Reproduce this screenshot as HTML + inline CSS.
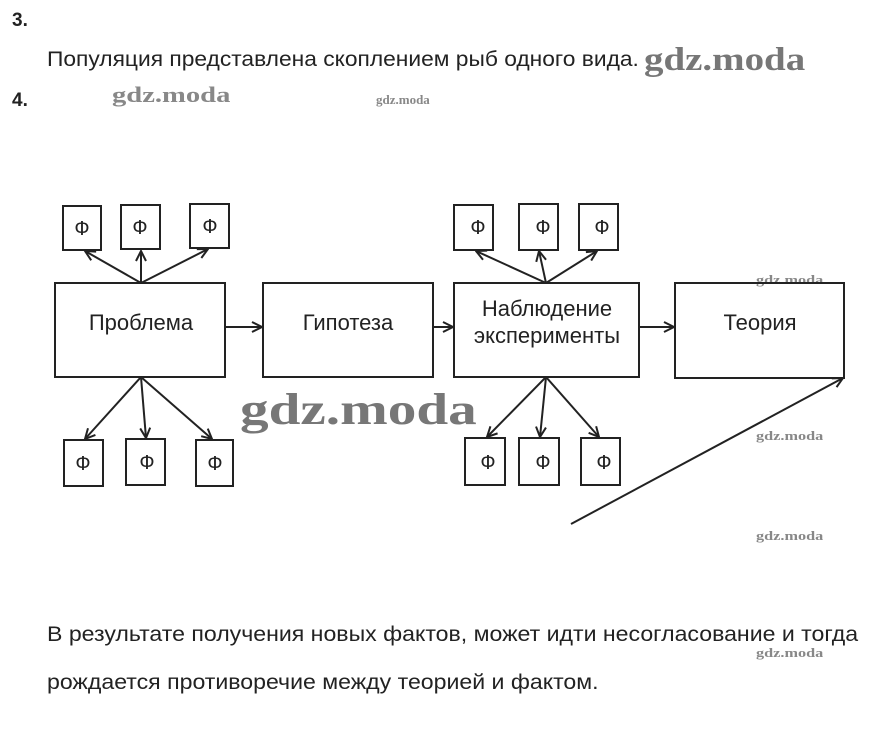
<!DOCTYPE html>
<html><head><meta charset="utf-8"><style>
body{margin:0;width:871px;height:750px;background:#fff;position:relative;overflow:hidden;font-family:"Liberation Sans",sans-serif;color:#222}
.t{position:absolute;white-space:nowrap;transform-origin:0 0}
.w{position:absolute;font-family:"Liberation Serif",serif;font-weight:bold;color:#888;white-space:nowrap;transform-origin:0 0}
</style></head><body>
<div class="t" style="left:12px;top:10px;font-size:19px;font-weight:bold">3.</div>
<div class="t" style="left:47px;top:48px;font-size:21px;transform:scaleX(1.085)">Популяция представлена скоплением рыб одного вида.</div>
<div class="w" style="left:644px;top:42px;font-size:33px;color:#777;transform:scaleX(1.18)">gdz.moda</div>
<div class="t" style="left:12px;top:90px;font-size:19px;font-weight:bold">4.</div>
<div class="w" style="left:112px;top:82px;font-size:22px;transform:scaleX(1.3)">gdz.moda</div>
<div class="w" style="left:376px;top:92px;font-size:13px">gdz.moda</div>
<div class="w" style="left:756px;top:272px;font-size:13px;transform:scaleX(1.25)">gdz.moda</div>
<div class="w" style="left:756px;top:428px;font-size:13px;transform:scaleX(1.25)">gdz.moda</div>
<div class="w" style="left:756px;top:528px;font-size:13px;transform:scaleX(1.25)">gdz.moda</div>
<div class="w" style="left:756px;top:645px;font-size:13px;transform:scaleX(1.25)">gdz.moda</div>
<svg width="871" height="750" style="position:absolute;left:0;top:0">
<defs><marker id="a" markerWidth="12" markerHeight="12" refX="11" refY="6" orient="auto" markerUnits="userSpaceOnUse"><path d="M1,1 L11,6 L1,11" fill="none" stroke="#222" stroke-width="2"/></marker></defs>
<g fill="none" stroke="#222" stroke-width="2">
<rect x="55" y="283" width="170" height="94"/>
<rect x="263" y="283" width="170" height="94"/>
<rect x="454" y="283" width="185" height="94"/>
<rect x="675" y="283" width="169" height="95"/>
<rect x="63" y="206" width="38" height="44"/>
<rect x="121" y="205" width="39" height="44"/>
<rect x="190" y="204" width="39" height="44"/>
<rect x="454" y="205" width="39" height="45"/>
<rect x="519" y="204" width="39" height="46"/>
<rect x="579" y="204" width="39" height="46"/>
<rect x="64" y="440" width="39" height="46"/>
<rect x="126" y="439" width="39" height="46"/>
<rect x="196" y="440" width="37" height="46"/>
<rect x="465" y="438" width="40" height="47"/>
<rect x="519" y="438" width="40" height="47"/>
<rect x="581" y="438" width="39" height="47"/>
</g>
<g stroke="#222" stroke-width="2" marker-end="url(#a)">
<line x1="141" y1="283" x2="85" y2="251"/>
<line x1="141" y1="283" x2="141" y2="251"/>
<line x1="141" y1="283" x2="208" y2="249"/>
<line x1="546" y1="283" x2="476" y2="251"/>
<line x1="546" y1="283" x2="539" y2="251"/>
<line x1="546" y1="283" x2="597" y2="251"/>
<line x1="141" y1="377" x2="85" y2="439"/>
<line x1="141" y1="377" x2="146" y2="438"/>
<line x1="141" y1="377" x2="212" y2="439"/>
<line x1="546" y1="377" x2="487" y2="437"/>
<line x1="546" y1="377" x2="540" y2="437"/>
<line x1="546" y1="377" x2="599" y2="437"/>
<line x1="225" y1="327" x2="262" y2="327"/>
<line x1="433" y1="327" x2="453" y2="327"/>
<line x1="639" y1="327" x2="674" y2="327"/>
<line x1="571" y1="524" x2="843" y2="378"/>
</g>
<g font-family="Liberation Sans,sans-serif" font-size="22" fill="#222" text-anchor="middle">
<text x="141" y="330">Проблема</text>
<text x="348" y="330">Гипотеза</text>
<text x="547" y="316">Наблюдение</text>
<text x="547" y="343">эксперименты</text>
<text x="760" y="330">Теория</text>
<g font-size="20">
<text x="82" y="235">Ф</text><text x="140" y="234">Ф</text><text x="210" y="233">Ф</text>
<text x="478" y="234">Ф</text><text x="543" y="234">Ф</text><text x="602" y="234">Ф</text>
<text x="83" y="470">Ф</text><text x="147" y="469">Ф</text><text x="215" y="470">Ф</text>
<text x="488" y="469">Ф</text><text x="543" y="469">Ф</text><text x="604" y="469">Ф</text>
</g></g>
</svg>
<div class="w" style="left:240px;top:384px;font-size:44px;color:#777;transform:scaleX(1.3)">gdz.moda</div>
<div class="t" style="left:47px;top:623px;font-size:21px;transform:scaleX(1.1)">В результате получения новых фактов, может идти несогласование и тогда</div>
<div class="t" style="left:47px;top:671px;font-size:21px;transform:scaleX(1.1)">рождается противоречие между теорией и фактом.</div>
</body></html>
